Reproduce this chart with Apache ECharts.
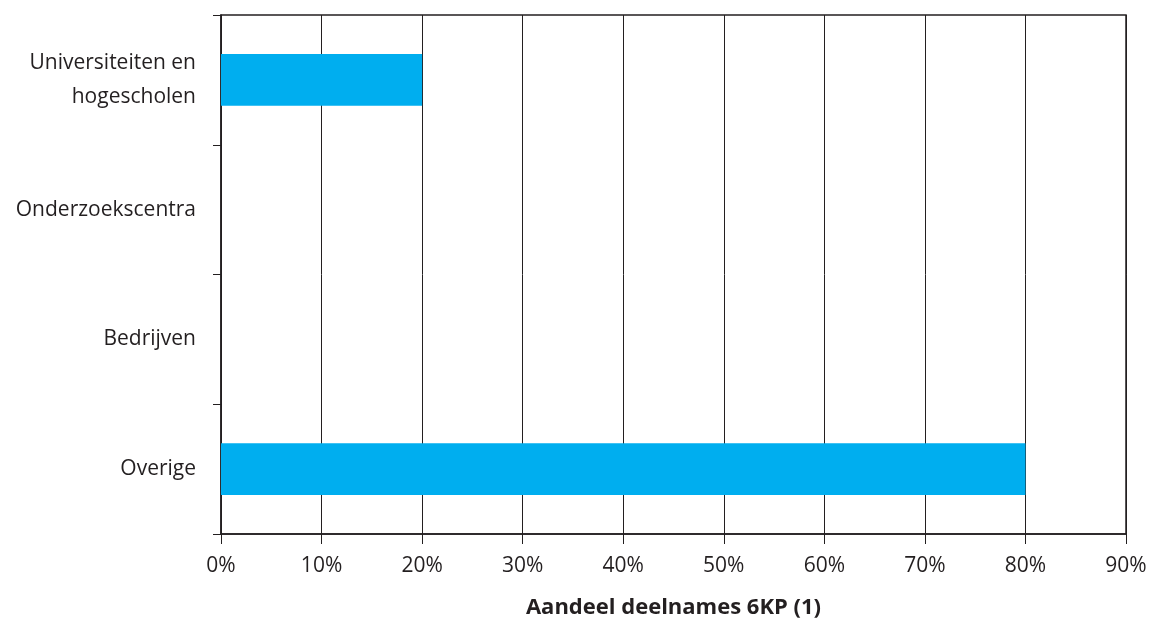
<!DOCTYPE html>
<html lang="en">
<head>
  <meta charset="UTF-8">
  <script src="https://cdn.jsdelivr.net/npm/echarts/dist/echarts.min.js"></script>
  <style>
    body { margin: 0; background: #ffffff; }
    #main { width: 1153px; height: 625px; }
  </style>
</head>
<body>
  <div id="main"></div>
  <script>
    // data
    var categories = ['Universiteiten en\nhogescholen', 'Onderzoekscentra', 'Bedrijven', 'Overige'];
    var shares = [20, 0, 0, 80];
    var axisTitle = 'Aandeel deelnames 6KP (1)';

    var chart = echarts.init(document.getElementById('main'));
    var lineColor = '#231f20';

    chart.setOption({
      animation: false,
      textStyle: { fontFamily: 'Open Sans, sans-serif' },
      grid: {
        left: 221, right: 27, top: 15, bottom: 91,
        outerBoundsMode: 'none',
        containLabel: false,
        show: true, borderColor: lineColor, borderWidth: 1.5
      },
      xAxis: {
        type: 'value',
        min: 0, max: 90, interval: 10,
        name: axisTitle,
        nameLocation: 'middle',
        nameGap: 63,
        nameTextStyle: { fontSize: 22, fontWeight: 'bold', color: '#231f20' },
        axisLine: { show: true, lineStyle: { color: lineColor, width: 1.5 } },
        axisTick: { show: true, length: 10, lineStyle: { color: lineColor } },
        axisLabel: { fontSize: 21, color: '#231f20', margin: 22, formatter: '{value}%' },
        splitLine: { show: true, lineStyle: { color: lineColor, width: 1 } }
      },
      yAxis: {
        type: 'category',
        data: categories,
        inverse: true,
        axisLine: { show: true, lineStyle: { color: lineColor, width: 1.5 } },
        axisTick: { show: true, length: 8, lineStyle: { color: lineColor } },
        axisLabel: { fontSize: 21, color: '#231f20', margin: 25, lineHeight: 34, align: 'right' }
      },
      series: [{
        type: 'bar',
        data: shares,
        barWidth: '40%',
        itemStyle: { color: '#00aeef' }
      }]
    });
  </script>
</body>
</html>
